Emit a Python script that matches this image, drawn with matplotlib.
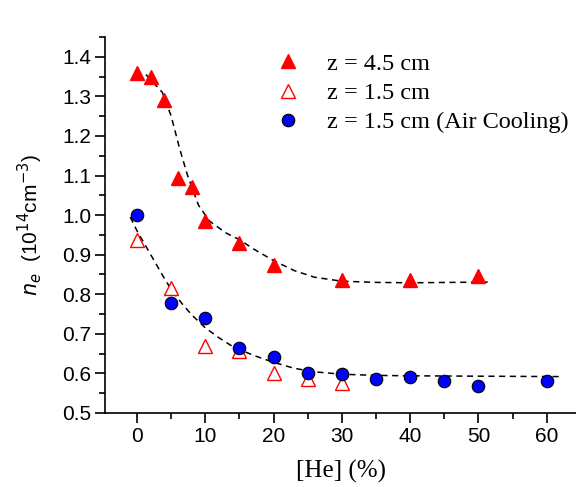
import matplotlib
matplotlib.use("Agg")
import matplotlib.pyplot as plt
from matplotlib.ticker import MultipleLocator

# Datos
he_45 = [0, 2, 4, 6, 8, 10, 15, 20, 30, 40, 50]
ne_45 = [1.36, 1.35, 1.29, 1.093, 1.07, 0.985, 0.93, 0.875, 0.835, 0.835, 0.845]

he_15 = [0, 5, 10, 15, 20, 25, 30]
ne_15 = [0.937, 0.815, 0.67, 0.657, 0.602, 0.585, 0.575]

he_air = [0, 5, 10, 15, 20, 25, 30, 35, 40, 45, 50, 60]
ne_air = [1.0, 0.778, 0.74, 0.663, 0.642, 0.60, 0.598, 0.587, 0.59, 0.582, 0.568, 0.58]

# Curvas de ajuste (punteadas)
fit_up_x = [1.3, 3.7, 5.0, 6.2, 7.4, 9.0, 10.6, 13, 15, 17, 20, 23, 26, 30, 35, 40, 46, 52]
fit_up_y = [1.355, 1.31, 1.25, 1.17, 1.10, 1.025, 0.985, 0.955, 0.938, 0.915, 0.885,
            0.86, 0.843, 0.833, 0.830, 0.829, 0.830, 0.831]
fit_lo_x = [-1, 0, 1, 2, 3, 4, 5, 6.5, 8, 10, 12, 14, 17, 20, 23, 26, 30, 35, 40, 50, 62]
fit_lo_y = [0.995, 0.96, 0.93, 0.90, 0.87, 0.84, 0.812, 0.778, 0.748, 0.715, 0.69,
            0.668, 0.646, 0.628, 0.613, 0.604, 0.598, 0.595, 0.594, 0.593, 0.592]

plt.rcParams["font.family"] = "Liberation Sans"

fig = plt.figure(figsize=(5.76, 4.87), dpi=100)
ax = fig.add_axes([105 / 576, 1 - 413 / 487, 471 / 576, 376 / 487])

ax.plot(fit_up_x, fit_up_y, color="black", ls=(0, (4, 3)), lw=1.1, zorder=1)
ax.plot(fit_lo_x, fit_lo_y, color="black", ls=(0, (4, 3)), lw=1.1, zorder=1)

ax.plot(he_45, ne_45, ls="none", marker="^", ms=10, color="red", mec="red",
        label="z = 4.5 cm", zorder=3)
ax.plot(he_15, ne_15, ls="none", marker="^", ms=10, mfc="white", mec="red", mew=1.0,
        label="z = 1.5 cm", zorder=3)
ax.plot(he_air, ne_air, ls="none", marker="o", ms=9, mfc="blue", mec="black", mew=0.8,
        label="z = 1.5 cm (Air Cooling)", zorder=4)

ax.set_xlim(-4.7, 64.3)
ax.set_ylim(0.5, 1.45)
ax.xaxis.set_major_locator(MultipleLocator(10))
ax.xaxis.set_minor_locator(MultipleLocator(5))
ax.yaxis.set_major_locator(MultipleLocator(0.1))
ax.yaxis.set_minor_locator(MultipleLocator(0.05))
ax.yaxis.set_major_formatter(plt.FuncFormatter(lambda v, p: f"{v:.1f}"))

ax.spines["top"].set_visible(False)
ax.spines["right"].set_visible(False)
for s in ["left", "bottom"]:
    ax.spines[s].set_linewidth(1.2)
ax.tick_params(which="major", direction="out", length=7, width=1.2, labelsize=15, pad=3)
ax.tick_params(which="minor", direction="out", length=4, width=1.2)

ax.set_xlabel("[He] (%)", fontsize=18, family="Liberation Serif", labelpad=10)
ax.set_ylabel(r"$n_e$  (10$^{14}$cm$^{-3}$)", fontsize=15, labelpad=12)

ax.legend(loc="upper left", bbox_to_anchor=(0.33, 1.0), frameon=False,
          prop={"family": "Liberation Serif", "size": 17.5}, handletextpad=1.1,
          labelspacing=0.3, handlelength=1.0, borderaxespad=0.25)

plt.savefig("out.png", dpi=100)
